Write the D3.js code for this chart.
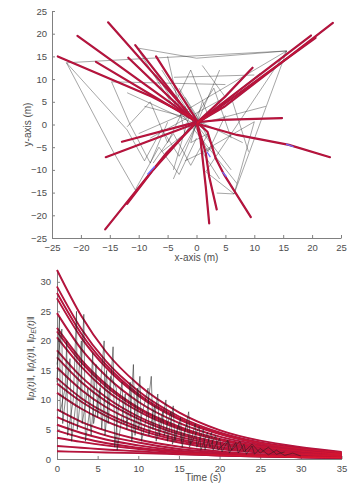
<!DOCTYPE html>
<html>
<head>
<meta charset="utf-8">
<script src="https://cdn.jsdelivr.net/npm/d3@7"></script>
<style>
  body { margin: 0; background: #fff; }
  svg text { font-family: "Liberation Sans", Arial, sans-serif; }
</style>
</head>
<body>
<svg id="chart" width="348" height="483"></svg>
<script>
// ---- top panel: robot trajectories (x, y in metres) ----
const topTicks = [-25, -20, -15, -10, -5, 0, 5, 10, 15, 20, 25];

const redPaths = [
  [[-24, 15], [-7.7, 6.1], [-0.6, 1.4]],
  [[-20.6, 19.5], [-0.4, 1.0]],
  [[-15.3, 22.5], [-0.2, 0.8]],
  [[-17.4, 13.8], [-0.8, 1.2]],
  [[-10.6, 17.5], [-0.3, 0.6]],
  [[-11.8, 14.7], [-0.5, 0.9]],
  [[-7, 15], [0.3, 0.4]],
  [[23.6, 22.4], [4.8, 3.9], [0, 0.3]],
  [[19.8, 19.6], [0.2, 0.5]],
  [[20.6, 19.1], [0.1, 0.2]],
  [[9.7, 12.5], [5, 6.2], [0.2, 0.6]],
  [[14.8, 1.4], [4.2, 1.0], [0, 0.5]],
  [[-15.8, -23.1], [-8, -10.7], [-5.2, -6.3], [-0.3, 0]],
  [[-12, -17.5], [-7.5, -10], [-0.5, 0]],
  [[-15.7, -7.2], [-4, -1.6], [-0.2, 0.2]],
  [[-12.9, -3.8], [-0.4, 0.4]],
  [[23.1, -7.2], [16, -4.5], [7, -2.3], [0.3, 0.1]],
  [[2.2, -21.8], [1.6, -13.7], [0.7, -3.4], [0, 0.2]],
  [[3.5, -18.7], [2.2, -11.5], [1.6, -6.3], [0.1, 0.3]],
  [[9.4, -20.4], [4.8, -11.1], [3.3, -7.4], [1.9, -1.6], [0.2, 0.3]]
];

const grayPaths = [
  [[-22.5, 13.6], [15.6, 16.2]],
  [[-22.5, 13.6], [-14.4, -6], [-10.6, -14.4], [-6.5, -5], [-3, -11], [0, -3]],
  [[-22.5, 13.6], [-12, -1.2], [-9, -8], [-6, -1], [-3, -7], [0, 0]],
  [[-14.7, 9.4], [5, 8.8]],
  [[-14.7, 9.4], [-11.5, 0], [-8, -8.5], [-5, 0.5]],
  [[-10, 16.8], [0, 14.6], [15.6, 16.2]],
  [[-3.9, 10.4], [10, 10.9]],
  [[15.6, 16.2], [6.5, -15.3], [3.5, -15.1]],
  [[15.6, 16.2], [1.6, -10.4], [6.5, -15.3], [10, 0.6]],
  [[15.6, 16.2], [-2, 3]],
  [[11, 11.3], [0, 0]],
  [[10, 0.6], [1, -6], [4, -12]],
  [[-12, -0.5], [-8, 5], [-5, -4], [-2, 4], [2, -6], [5, 2]],
  [[-7.5, -8.5], [-4, -2], [-1, -9], [2, -2]],
  [[-10.6, 17.5], [-4, 4], [-1, 12], [2, 2]],
  [[-5, 15], [-2, -2], [3, 8], [6, -3]],
  [[-6, 12], [0, 0], [4, 12]],
  [[-9, 4], [0, 1], [8, -4]],
  [[-4, -12], [0, 0], [6, -10]],
  [[-3, 8], [3, -5], [-2, -8]],
  [[-8, -3], [5, 6], [1, 13]],
  [[-12, 7], [0, 0], [12, 4]],
  [[7, -13], [-3, 3], [-7, 11]],
  [[-6, -6], [6, 6], [9, -6]],
  [[-10, -2], [-1, 3], [-4, -10]],
  [[-2, 6], [2, -2], [-1, -4], [1, 5]]
];

const bluePaths = [
  [[-8.5, -11], [-7.2, -9.2]],
  [[15.5, -4.3], [16.8, -4.9]],
  [[4.5, -10.5], [5.2, -11.5]],
  [[1.8, -6], [2.4, -7.2]]
];

// ---- bottom panel: norms over time ----
const timeTicks = [0, 5, 10, 15, 20, 25, 30, 35];
const normTicks = [0, 5, 10, 15, 20, 25, 30];
const decayTimes = [0, 3, 6, 10, 15, 20, 25, 30, 35];

const decayCurves = [
  [32.0, 24.2, 18.2, 12.6, 7.9, 4.9, 3.1, 2.0, 1.2],
  [29.2, 22.0, 16.6, 11.5, 7.2, 4.5, 2.8, 1.8, 1.1],
  [28.1, 21.2, 16.0, 11.0, 6.9, 4.3, 2.7, 1.7, 1.1],
  [27.2, 20.5, 15.5, 10.7, 6.7, 4.2, 2.6, 1.7, 1.0],
  [24.7, 18.6, 14.1, 9.7, 6.1, 3.8, 2.4, 1.5, 0.9],
  [22.2, 16.8, 12.7, 8.7, 5.5, 3.4, 2.2, 1.4, 0.8],
  [21.6, 16.3, 12.3, 8.5, 5.3, 3.3, 2.1, 1.3, 0.8],
  [20.6, 15.6, 11.7, 8.1, 5.1, 3.2, 2.0, 1.3, 0.8],
  [18.4, 13.9, 10.5, 7.2, 4.5, 2.8, 1.8, 1.1, 0.7],
  [17.2, 13.0, 9.8, 6.8, 4.2, 2.6, 1.7, 1.0, 0.7],
  [15.5, 11.7, 8.8, 6.1, 3.8, 2.4, 1.5, 0.9, 0.6],
  [13.7, 10.3, 7.8, 5.4, 3.4, 2.1, 1.3, 0.8, 0.5],
  [12.8, 9.7, 7.3, 5.0, 3.1, 2.0, 1.2, 0.8, 0.5],
  [11.2, 8.5, 6.4, 4.4, 2.8, 1.7, 1.1, 0.7, 0.4],
  [8.4, 6.3, 4.8, 3.3, 2.1, 1.3, 0.8, 0.5, 0.3],
  [7.1, 5.4, 4.0, 2.8, 1.7, 1.1, 0.7, 0.4, 0.3],
  [5.8, 4.4, 3.3, 2.3, 1.4, 0.9, 0.6, 0.4, 0.2],
  [4.8, 3.6, 2.7, 1.9, 1.2, 0.7, 0.5, 0.3, 0.2],
  [3.6, 2.9, 2.3, 1.7, 1.1, 0.7, 0.5, 0.3, 0.2],
  [2.2, 1.9, 1.6, 1.3, 0.9, 0.6, 0.4, 0.3, 0.2],
  [1.3, 1.2, 1.1, 1.0, 0.8, 0.6, 0.4, 0.3, 0.2]
];

// spiky estimation error traces, [t, value]
const spikeSeriesA = [
  [0, 13], [0.3, 24], [0.4, 8], [1.0, 12], [1.2, 20], [1.3, 4], [2.0, 10], [2.4, 25], [2.5, 5],
  [2.8, 9], [3.3, 24.5], [3.5, 3], [4.0, 8], [4.4, 18], [4.5, 6], [5.3, 12], [5.5, 5], [6.1, 15],
  [6.3, 6], [6.9, 19], [7.1, 2], [7.5, 8], [8.0, 13], [8.2, 6], [9.0, 7], [9.4, 16], [9.6, 4],
  [10.2, 14], [10.4, 3], [11.0, 7], [11.6, 14], [11.8, 5], [12.4, 11], [12.6, 4], [13.4, 10],
  [13.6, 3], [14.3, 9], [14.5, 3], [15.2, 7], [15.4, 2], [16.2, 8], [16.4, 2.5], [17.0, 6],
  [17.2, 2], [18.0, 5], [18.2, 1.5], [19.0, 4.5], [19.2, 1.5], [20.0, 3.5], [20.3, 1.2], [21, 3],
  [21.2, 1.0], [22, 2.8], [22.3, 1.0], [23, 2.5], [23.3, 0.8], [24, 2.2], [24.3, 0.8], [25, 1.8],
  [26, 0.7], [27, 1.5], [28, 0.6], [29, 1.0], [30, 0.5]
];
const spikeSeriesB = [
  [0, 16], [0.6, 22], [0.7, 6], [1.6, 17], [1.8, 3], [2.6, 13], [3.0, 20], [3.1, 6], [3.8, 12],
  [4.2, 4], [4.8, 16], [5.0, 7], [5.8, 20], [5.9, 4], [6.6, 14], [7.3, 12], [7.4, 1.5], [8.4, 11],
  [8.6, 5], [9.0, 13], [9.2, 3], [9.9, 12], [10.0, 5], [10.7, 9], [11.2, 12], [11.3, 4], [12.0, 9],
  [12.2, 3], [13.0, 8], [13.2, 4], [14.0, 8], [14.2, 2.5], [15.0, 6], [15.3, 3], [16, 6], [16.3, 2],
  [17.5, 5.5], [17.7, 1.5], [18.5, 4.5], [18.8, 2], [19.5, 4], [19.8, 1.5], [21, 3.2], [21.5, 1.5],
  [22.5, 3], [23, 1.2], [24, 2.5], [25, 1], [26, 2], [27, 0.8], [28, 1.2]
];

const svg = d3.select("#chart");

const axisColor = "#808080";
const labelColor = "#4d4d4d";
const crimson = "#a8123f";

function styleAxis(g) {
  g.attr("font-family", "Liberation Sans, Arial, sans-serif").attr("font-size", 9.5);
  g.select(".domain").attr("stroke", axisColor);
  g.selectAll(".tick line").attr("stroke", axisColor);
  g.selectAll(".tick text").attr("fill", labelColor);
}

// ===== top panel =====
const xTop = d3.scaleLinear().domain([-25, 25]).range([52, 341]);
const yTop = d3.scaleLinear().domain([-25, 25]).range([238, 11]);

svg.append("g")
  .attr("transform", `translate(0,${yTop(-25)})`)
  .call(d3.axisBottom(xTop).tickValues(topTicks).tickSizeInner(-3).tickSizeOuter(0).tickPadding(6))
  .call(styleAxis);
svg.append("g")
  .attr("transform", `translate(${xTop(-25)},0)`)
  .call(d3.axisLeft(yTop).tickValues(topTicks).tickSizeInner(-3).tickSizeOuter(0).tickPadding(5))
  .call(styleAxis);

const topLine = d3.line().x(d => xTop(d[0])).y(d => yTop(d[1]));

svg.append("g")
  .selectAll("path")
  .data(grayPaths)
  .join("path")
  .attr("fill", "none")
  .attr("stroke", "#2a2a2a")
  .attr("stroke-opacity", 0.7)
  .attr("stroke-width", 0.6)
  .attr("d", topLine);

svg.append("g")
  .selectAll("path")
  .data(redPaths)
  .join("path")
  .attr("fill", "none")
  .attr("stroke", crimson)
  .attr("stroke-width", 2.2)
  .attr("stroke-linecap", "round")
  .attr("d", topLine);
svg.append("g")
  .selectAll("path")
  .data(redPaths)
  .join("path")
  .attr("fill", "none")
  .attr("stroke", "#e8192c")
  .attr("stroke-opacity", 0.4)
  .attr("stroke-width", 0.9)
  .attr("d", topLine);

svg.append("g")
  .selectAll("path")
  .data(bluePaths)
  .join("path")
  .attr("fill", "none")
  .attr("stroke", "#6f6cff")
  .attr("stroke-width", 1.3)
  .attr("d", topLine);

// axis labels
svg.append("text")
  .attr("x", xTop(0)).attr("y", 261)
  .attr("text-anchor", "middle")
  .attr("font-size", 10).attr("fill", labelColor)
  .text("x-axis (m)");
svg.append("text")
  .attr("transform", `translate(31,${yTop(0)}) rotate(-90)`)
  .attr("text-anchor", "middle")
  .attr("font-size", 10).attr("fill", labelColor)
  .text("y-axis (m)");

// ===== bottom panel =====
const xBot = d3.scaleLinear().domain([0, 35]).range([57, 341.5]);
const yBot = d3.scaleLinear().domain([0, 32]).range([459, 270]);

svg.append("g")
  .attr("transform", `translate(0,${yBot(0)})`)
  .call(d3.axisBottom(xBot).tickValues(timeTicks).tickSizeInner(-3).tickSizeOuter(0).tickPadding(6))
  .call(styleAxis);
svg.append("g")
  .attr("transform", `translate(${xBot(0)},0)`)
  .call(d3.axisLeft(yBot).tickValues(normTicks).tickSizeInner(-3).tickSizeOuter(0).tickPadding(6))
  .call(styleAxis);

const curveLine = d3.line()
  .x((d, i) => xBot(decayTimes[i]))
  .y(d => yBot(d))
  .curve(d3.curveMonotoneX);

svg.append("g")
  .selectAll("path")
  .data(decayCurves)
  .join("path")
  .attr("fill", "none")
  .attr("stroke", crimson)
  .attr("stroke-width", 1.9)
  .attr("d", curveLine);
svg.append("g")
  .selectAll("path")
  .data(decayCurves)
  .join("path")
  .attr("fill", "none")
  .attr("stroke", "#e8192c")
  .attr("stroke-opacity", 0.4)
  .attr("stroke-width", 0.8)
  .attr("d", curveLine);

const spikeLine = d3.line().x(d => xBot(d[0])).y(d => yBot(d[1]));
svg.append("g")
  .selectAll("path")
  .data([spikeSeriesA, spikeSeriesB])
  .join("path")
  .attr("fill", "none")
  .attr("stroke", "#1e1e1e")
  .attr("stroke-opacity", 0.75)
  .attr("stroke-width", 0.7)
  .attr("d", spikeLine);

svg.append("text")
  .attr("x", xBot(18)).attr("y", 481)
  .attr("text-anchor", "middle")
  .attr("font-size", 10).attr("fill", labelColor)
  .text("Time (s)");

// y label: ||p_i(t)||, ||p^_i(t)||, ||p_E(t)||
const yLab = svg.append("text")
  .attr("transform", `translate(34,${yBot(17)}) rotate(-90)`)
  .attr("text-anchor", "middle")
  .attr("font-family", "DejaVu Serif, serif")
  .attr("font-style", "italic")
  .attr("font-size", 9.5)
  .attr("fill", labelColor);
const labParts = [
  ["\u2016p", false], ["i", true], ["(t)\u2016, \u2016p\u0302", false], ["i", true],
  ["(t)\u2016, \u2016p", false], ["E", true], ["(t)\u2016", false]
];
labParts.forEach(([txt, sub], i) => {
  yLab.append("tspan")
    .attr("dy", sub ? 2 : (i > 0 ? -2 : 0))
    .attr("font-size", sub ? 7 : 9.5)
    .text(txt);
});
</script>
</body>
</html>
